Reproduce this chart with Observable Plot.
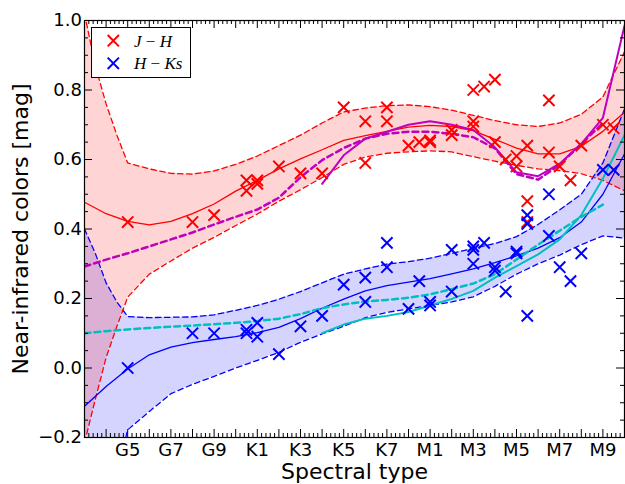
<!DOCTYPE html>
<html><head><meta charset="utf-8">
<script src="https://cdn.jsdelivr.net/npm/d3@7"></script>
<script src="https://cdn.jsdelivr.net/npm/@observablehq/plot@0.6"></script>
<style>body{margin:0;background:#fff;} svg{overflow:visible}</style>
</head><body><div id="chart"></div>
<script>
// ---- data ----
const tickPos    = [5, 7, 9, 11, 13, 15, 17, 19, 21, 23, 25, 27];
const tickLabels = ["G5","G7","G9","K1","K3","K5","K7","M1","M3","M5","M7","M9"];

const starSpT = [5, 8, 9, 10.5, 10.5, 11, 11, 12, 13, 14, 15, 16, 16, 17, 17, 18, 18.5, 19, 19, 20,
                 20, 21, 21, 21, 21.5, 22, 22, 22.5, 23, 23, 23.5, 23.5, 23.5, 24.5, 24.5, 25, 25.5, 26, 27, 27.5];
const starJH  = [0.42, 0.42, 0.44, 0.51, 0.54, 0.53, 0.54, 0.58, 0.56, 0.56, 0.75, 0.71, 0.59, 0.75, 0.71, 0.64, 0.65, 0.655, 0.65, 0.67,
                 0.685, 0.80, 0.71, 0.695, 0.81, 0.83, 0.65, 0.60, 0.61, 0.58, 0.64, 0.48, 0.42, 0.77, 0.62, 0.58, 0.54, 0.64, 0.70, 0.69];
const starHK  = [0.0, 0.10, 0.10, 0.11, 0.10, 0.13, 0.09, 0.04, 0.12, 0.15, 0.24, 0.26, 0.19, 0.36, 0.29, 0.17, 0.25, 0.19, 0.18, 0.34,
                 0.22, 0.35, 0.34, 0.30, 0.36, 0.29, 0.28, 0.22, 0.335, 0.33, 0.44, 0.415, 0.15, 0.50, 0.38, 0.29, 0.25, 0.33, 0.57, 0.57];

const meanX  = [3,4,5,6,7,8,9,10,11,12,13,14,15,16,17,18,19,20,21,22,23,24,25,26,27,28];
const jhMean = [0.477,0.444,0.422,0.412,0.422,0.444,0.472,0.509,0.54,0.573,0.602,0.628,0.655,0.669,0.681,0.693,0.698,0.695,0.683,0.658,0.633,0.616,0.616,0.638,0.681,0.736];
const hkMean = [-0.11,-0.053,-0.003,0.038,0.06,0.073,0.082,0.09,0.102,0.117,0.142,0.172,0.198,0.222,0.237,0.247,0.257,0.271,0.285,0.303,0.323,0.345,0.375,0.42,0.50,0.616];

const boundX = [3,3.5,4,4.5,5,6,7,8,9,10,11,12,13,14,15,16,17,18,19,20,21,22,23,24,25,26,27,28];
const jhHi = [1.02,0.87,0.76,0.67,0.59,0.573,0.56,0.558,0.567,0.586,0.61,0.64,0.67,0.705,0.737,0.748,0.755,0.757,0.752,0.742,0.727,0.712,0.70,0.695,0.705,0.73,0.78,0.91];
const jhLo = [-0.215,-0.09,0.03,0.12,0.204,0.27,0.308,0.345,0.376,0.41,0.443,0.48,0.513,0.548,0.586,0.607,0.618,0.622,0.625,0.622,0.608,0.595,0.583,0.573,0.568,0.559,0.54,0.51];
const hkHi = [0.40,0.33,0.245,0.19,0.148,0.145,0.146,0.147,0.153,0.166,0.18,0.198,0.22,0.245,0.27,0.285,0.299,0.306,0.316,0.33,0.344,0.358,0.378,0.413,0.455,0.50,0.59,0.745];
const hkLo = [-0.65,-0.5,-0.38,-0.3,-0.178,-0.125,-0.074,-0.047,-0.024,0.0,0.022,0.045,0.074,0.098,0.12,0.145,0.16,0.17,0.18,0.19,0.205,0.235,0.27,0.30,0.325,0.355,0.38,0.374];

const cyanDashX = [3,4,5,6,7,8,9,10,11,12,13,14,15,16,17,18,19,20,21,22,23,24,25,26,27];
const cyanDashY = [0.10,0.106,0.111,0.115,0.119,0.122,0.126,0.13,0.135,0.142,0.155,0.172,0.183,0.191,0.196,0.202,0.212,0.227,0.243,0.27,0.312,0.355,0.395,0.435,0.47];
const magDashX  = [3,4,5,6,7,8,9,10,11,12,13,14,15,16,17,18,19,20,21,22,23,24,25,26,27];
const magDashY  = [0.292,0.312,0.33,0.35,0.37,0.39,0.413,0.435,0.456,0.49,0.549,0.598,0.633,0.66,0.674,0.68,0.68,0.674,0.664,0.632,0.558,0.542,0.585,0.645,0.705];
const cyanSolX  = [14,15,16,17,18,19,20,21,22,23,24,25,26,27,28];
const cyanSolY  = [0.10,0.125,0.142,0.15,0.161,0.18,0.199,0.222,0.26,0.293,0.327,0.37,0.44,0.545,0.67];
const magSolX   = [14,15,16,17,18,19,20,21,22,23,24,25,26,27,28];
const magSolY   = [0.53,0.612,0.66,0.68,0.70,0.71,0.70,0.685,0.635,0.563,0.552,0.588,0.645,0.72,0.985];

const yTickVals = [-0.2, 0, 0.2, 0.4, 0.6, 0.8, 1.0];

// ---- build tables ----
const zip = (xs, ys) => xs.map((x, i) => ({x, y: ys[i]}));
const stars = starSpT.map((x, i) => ({x, jh: starJH[i], hk: starHK[i]}));
const bounds = boundX.map((x, i) => ({x, jhHi: jhHi[i], jhLo: jhLo[i], hkHi: hkHi[i], hkLo: hkLo[i]}));
const jhM = zip(meanX, jhMean), hkM = zip(meanX, hkMean);
const cyD = zip(cyanDashX, cyanDashY), mgD = zip(magDashX, magDashY);
const cyS = zip(cyanSolX, cyanSolY), mgS = zip(magSolX, magSolY);
const labelOf = new Map(tickPos.map((t, i) => [t, tickLabels[i]]));

const W = 625, H = 484, mL = 84, mR = 1, mT = 20, mB = 47;
const fw = W - mL - mR, fh = H - mT - mB;
const xMajor = d3.range(3, 29);
const xMinor = d3.range(15, 141).filter(i => i % 5).map(i => i / 5);
const yMajor = d3.range(-1, 6).map(i => i * 0.2);
const yMinor = d3.range(-4, 21).filter(i => i % 4).map(i => i * 0.05);
const MAJ = 8, MIN = 4;
const dash = "5.5,3.5", thickDash = "6,4";

const plot = Plot.plot({
  width: W, height: H,
  marginLeft: mL, marginRight: mR, marginTop: mT, marginBottom: mB,
  style: {fontFamily: "DejaVu Sans", background: "white", color: "black"},
  x: {domain: [3, 28]},
  y: {domain: [-0.2, 1.0]},
  marks: [
    Plot.areaY(bounds, {x: "x", y1: "hkLo", y2: "hkHi", fill: "blue", fillOpacity: 0.17, clip: true}),
    Plot.areaY(bounds, {x: "x", y1: "jhLo", y2: "jhHi", fill: "red", fillOpacity: 0.17, clip: true}),
    Plot.line(bounds, {x: "x", y: "hkHi", stroke: "blue", strokeWidth: 1.3, strokeDasharray: dash, clip: true}),
    Plot.line(bounds, {x: "x", y: "hkLo", stroke: "blue", strokeWidth: 1.3, strokeDasharray: dash, clip: true}),
    Plot.line(bounds, {x: "x", y: "jhHi", stroke: "red", strokeWidth: 1.3, strokeDasharray: dash, clip: true}),
    Plot.line(bounds, {x: "x", y: "jhLo", stroke: "red", strokeWidth: 1.3, strokeDasharray: dash, clip: true}),
    Plot.line(hkM, {x: "x", y: "y", stroke: "blue", strokeWidth: 1.3, clip: true}),
    Plot.line(jhM, {x: "x", y: "y", stroke: "red", strokeWidth: 1.3, clip: true}),
    Plot.line(cyD, {x: "x", y: "y", stroke: "#00bfbf", strokeWidth: 2.5, strokeDasharray: thickDash, clip: true}),
    Plot.line(cyS, {x: "x", y: "y", stroke: "#00bfbf", strokeWidth: 2, clip: true}),
    Plot.line(mgD, {x: "x", y: "y", stroke: "#bf00bf", strokeWidth: 2.5, strokeDasharray: thickDash, clip: true}),
    Plot.line(mgS, {x: "x", y: "y", stroke: "#bf00bf", strokeWidth: 2, clip: true}),
    Plot.dot(stars, {x: "x", y: "jh", symbol: "times", r: 5.2, stroke: "red", strokeWidth: 2}),
    Plot.dot(stars, {x: "x", y: "hk", symbol: "times", r: 5.2, stroke: "blue", strokeWidth: 2}),
    // ticks (inward, all four sides)
    Plot.tickX(xMajor, {x: d => d, insetTop: fh - MAJ, stroke: "black"}),
    Plot.tickX(xMajor, {x: d => d, insetBottom: fh - MAJ, stroke: "black"}),
    Plot.tickX(xMinor, {x: d => d, insetTop: fh - MIN, stroke: "black"}),
    Plot.tickX(xMinor, {x: d => d, insetBottom: fh - MIN, stroke: "black"}),
    Plot.tickY(yMajor, {y: d => d, insetRight: fw - MAJ, stroke: "black"}),
    Plot.tickY(yMajor, {y: d => d, insetLeft: fw - MAJ, stroke: "black"}),
    Plot.tickY(yMinor, {y: d => d, insetRight: fw - MIN, stroke: "black"}),
    Plot.tickY(yMinor, {y: d => d, insetLeft: fw - MIN, stroke: "black"}),
    Plot.frame({stroke: "black", strokeWidth: 1.2}),
    Plot.axisX(tickPos, {tickSize: 0, tickPadding: 5.5, fontSize: 18, label: null,
                         tickFormat: d => labelOf.get(d)}),
    Plot.axisY(yTickVals, {tickSize: 0, tickPadding: 2.5, fontSize: 18, label: null,
                           tickFormat: d3.format(".1f")}),
    Plot.text(["Spectral type"], {frameAnchor: "bottom", dy: 34, fontSize: 22, lineAnchor: "middle", textAnchor: "middle"}),
    Plot.text(["Near-infrared colors [mag]"], {frameAnchor: "left", dx: -64, rotate: -90, fontSize: 22, lineAnchor: "middle", textAnchor: "middle"})
  ]
});
document.getElementById("chart").appendChild(plot);

// ---- legend ----
const svg = d3.select(plot);
const lg = svg.append("g");
lg.append("rect").attr("x", 91.5).attr("y", 27.5).attr("width", 99).attr("height", 50)
  .attr("fill", "white").attr("stroke", "black").attr("stroke-width", 1);
const sym = d3.symbol(d3.symbolTimes, Math.PI * 27)();
const entries = [{c: "red", t: ["J", " \u2212 ", "H"], y: 40.7}, {c: "blue", t: ["H", " \u2212 ", "Ks"], y: 63.3}];
for (const e of entries) {
  lg.append("path").attr("d", sym).attr("transform", `translate(113.3,${e.y})`)
    .attr("fill", "none").attr("stroke", e.c).attr("stroke-width", 2);
  const tx = lg.append("text").attr("x", 134).attr("y", e.y).attr("dy", "0.35em")
    .attr("text-anchor", "start")
    .attr("font-family", "Liberation Serif").attr("font-size", 17);
  tx.append("tspan").attr("font-style", "italic").text(e.t[0]);
  tx.append("tspan").text(e.t[1]);
  tx.append("tspan").attr("font-style", "italic").text(e.t[2]);
}
</script>
</body></html>
